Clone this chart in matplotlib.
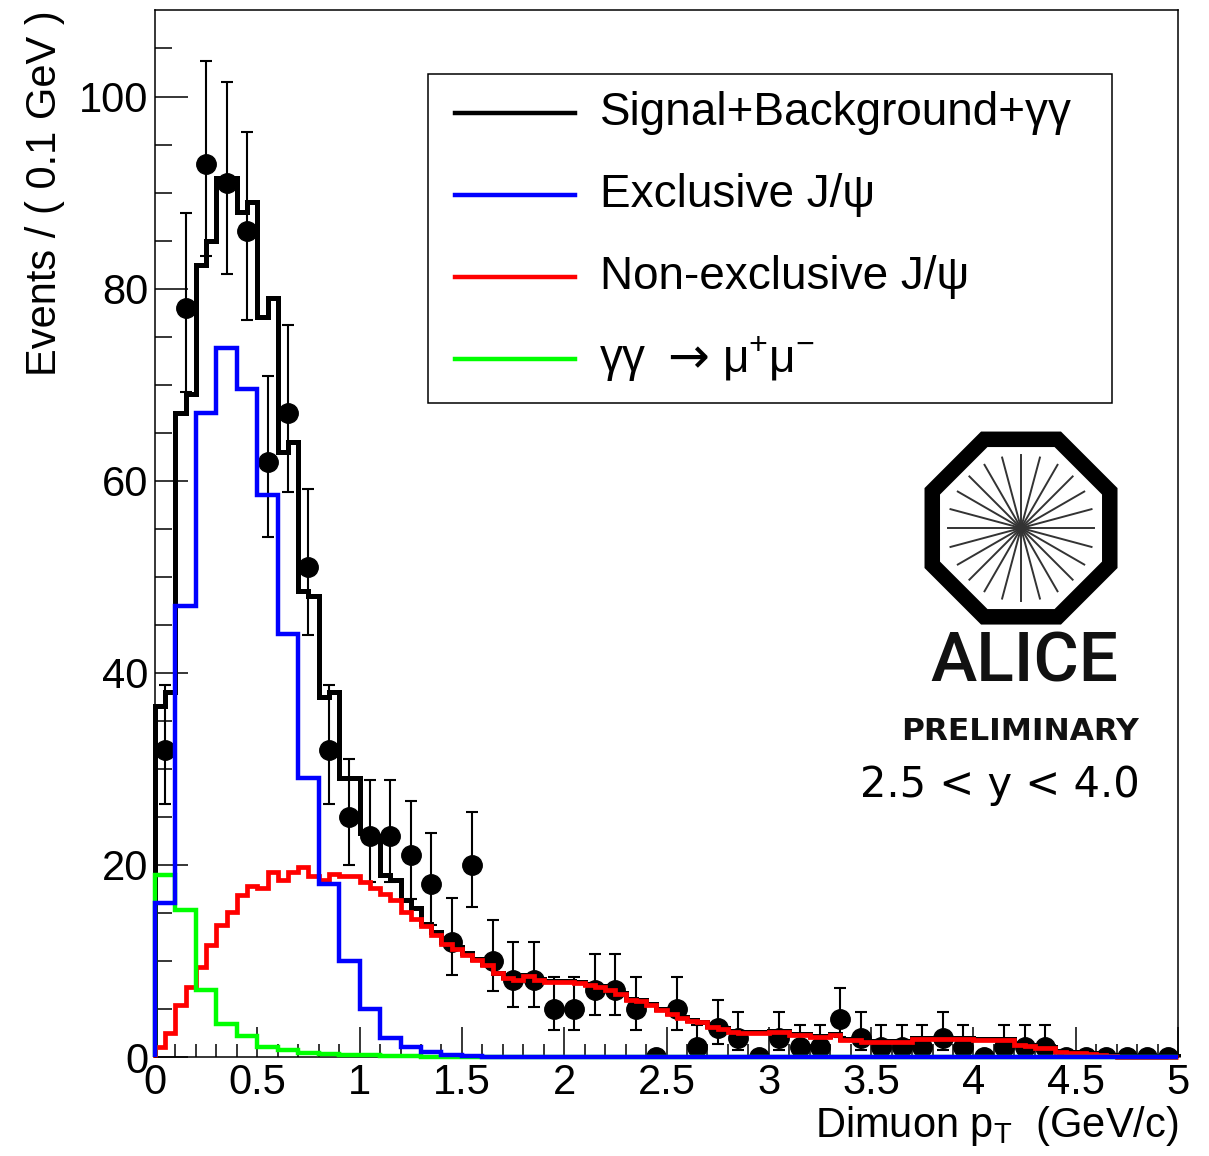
import numpy as np
import matplotlib as mpl
mpl.use('Agg')
import matplotlib.pyplot as plt
from matplotlib.ticker import MultipleLocator, FuncFormatter
from matplotlib.patches import RegularPolygon, Rectangle
from matplotlib.lines import Line2D

plt.rcParams['font.family'] = ['Liberation Sans', 'DejaVu Sans']
plt.rcParams['mathtext.fontset'] = 'custom'
plt.rcParams['mathtext.rm'] = 'Liberation Sans'
plt.rcParams['mathtext.it'] = 'Liberation Sans:italic'

# binning: fit curves in 0.05 GeV bins, data and two components in 0.1 GeV bins
fine_edges = np.linspace(0, 5, 101)
coarse_edges = np.linspace(0, 5, 51)
pt_centers = 0.5 * (coarse_edges[:-1] + coarse_edges[1:])

# data counts per 0.1 GeV
counts = [32, 78, 93, 91, 86, 62, 67, 51, 32, 25,
          23, 23, 21, 18, 12, 20, 10, 8, 8, 5,
          5, 7, 7, 5, 0, 5, 1, 3, 2, 0,
          2, 1, 1, 4, 2, 1, 1, 1, 2, 1,
          0, 1, 1, 1, 0, 0, 0, 0, 0, 0]
err_lo = [5.62, 8.80, 9.62, 9.51, 9.25, 7.84, 8.16, 7.11, 5.62, 4.97,
          4.76, 4.76, 4.54, 4.21, 3.41, 4.43, 3.11, 2.77, 2.77, 2.16,
          2.16, 2.58, 2.58, 2.16, 0, 2.16, 0.83, 1.63, 1.29, 0,
          1.29, 0.83, 0.83, 1.91, 1.29, 0.83, 0.83, 0.83, 1.29, 0.83,
          0, 0.83, 0.83, 0.83, 0, 0, 0, 0, 0, 0]
err_hi = [6.70, 9.86, 10.66, 10.56, 10.30, 8.91, 9.22, 8.18, 6.70, 6.04,
          5.84, 5.84, 5.64, 5.35, 4.58, 5.54, 4.27, 3.95, 3.95, 3.38,
          3.38, 3.77, 3.77, 3.38, 0, 3.38, 2.30, 2.92, 2.64, 0,
          2.64, 2.30, 2.30, 3.16, 2.64, 2.30, 2.30, 2.30, 2.64, 2.30,
          0, 2.30, 2.30, 2.30, 0, 0, 0, 0, 0, 0]

# Signal+Background+gg (0.05 bins)
total = [36.5, 38, 67, 69, 82.5, 85, 91.5, 91.5, 88, 89,
         77, 79, 63, 64, 48.5, 48, 37.5, 38, 29, 29,
         23.3, 23, 19, 18.4, 16.3, 15.5, 13.9, 13.0, 12.0, 11.5,
         10.8, 10.2, 9.7, 8.8, 8.3, 8.1, 8.5, 8.1, 7.9, 7.9,
         7.9, 7.8, 7.6, 7.4, 7.1, 6.7, 6.0, 5.9, 5.5, 5.0,
         4.6, 4.2, 3.9, 3.7, 3.2, 3.0, 2.7, 2.6, 2.6, 2.6,
         2.7, 2.7, 2.4, 2.4, 2.2, 2.2, 2.4, 1.9, 1.9, 1.7,
         1.7, 1.7, 1.7, 1.7, 2.0, 2.0, 2.0, 2.0, 2.0, 2.0,
         1.9, 1.9, 1.9, 1.9, 1.4, 1.3, 1.0, 1.0, 0.6, 0.5,
         0.5, 0.4, 0.3, 0.2, 0.1, 0.1, 0.1, 0.1, 0.1, 0.1]

# Non-exclusive J/psi (0.05 bins)
nonexcl = [1.0, 2.5, 5.4, 7.3, 9.4, 11.7, 13.7, 15.1, 16.9, 17.8,
           17.6, 19.3, 18.4, 19.3, 19.8, 18.8, 18.4, 19.1, 18.9, 18.8,
           18.2, 17.6, 17.0, 16.4, 15.1, 14.4, 13.6, 12.7, 11.8, 11.3,
           10.6, 10.1, 9.6, 8.7, 8.2, 8.0, 8.4, 8.0, 7.8, 7.8,
           7.8, 7.7, 7.5, 7.3, 7.0, 6.6, 5.9, 5.8, 5.4, 4.9,
           4.5, 4.1, 3.8, 3.6, 3.1, 2.9, 2.6, 2.5, 2.5, 2.5,
           2.6, 2.6, 2.3, 2.3, 2.1, 2.1, 2.3, 1.8, 1.8, 1.6,
           1.6, 1.6, 1.6, 1.6, 1.9, 1.9, 1.9, 1.9, 1.9, 1.9,
           1.8, 1.8, 1.8, 1.8, 1.3, 1.2, 0.9, 0.9, 0.5, 0.4,
           0.4, 0.3, 0.2, 0.1, 0, 0, 0, 0, 0, 0]

# Exclusive J/psi (0.1 bins)
excl = [16, 47, 67, 73.8, 69.5, 58.5, 44, 29, 18, 10,
        5, 2, 1, 0.5, 0.2, 0.1, 0, 0, 0, 0] + [0] * 30

# gamma gamma -> mu mu (0.1 bins)
gg = [19, 15.3, 7, 3.4, 2.2, 1.0, 0.7, 0.4, 0.3, 0.25,
      0.2, 0.15, 0.1, 0.05, 0, 0, 0, 0, 0, 0] + [0] * 30

legend_labels = ['Signal+Background+γγ', 'Exclusive J/ψ', 'Non-exclusive J/ψ', None]
legend_colors = ['black', '#0000ff', '#ff0000', '#00ff00']

fig = plt.figure(figsize=(12.09, 11.56), dpi=100)
ax = fig.add_axes([0.1282, 0.0856, 0.8462, 0.9057])

ax.errorbar(pt_centers, counts, yerr=[err_lo, err_hi], fmt='o', color='black',
            ms=14, elinewidth=1.5, capsize=4.5, capthick=1.5, zorder=2)
ax.stairs(total, fine_edges, color='black', lw=3.6, zorder=3, clip_on=False)
ax.stairs(nonexcl, fine_edges, color='#ff0000', lw=3.4, zorder=4, clip_on=False)
ax.stairs(gg, coarse_edges, color='#00ff00', lw=3.2, zorder=5, clip_on=False)
ax.stairs(excl, coarse_edges, color='#0000ff', lw=3.2, zorder=6, clip_on=False)

ax.set_xlim(0, 5)
ax.set_ylim(0, 109)
ax.xaxis.set_major_locator(MultipleLocator(0.5))
ax.xaxis.set_minor_locator(MultipleLocator(0.1))
ax.yaxis.set_major_locator(MultipleLocator(20))
ax.yaxis.set_minor_locator(MultipleLocator(5))
ax.xaxis.set_major_formatter(FuncFormatter(lambda v, p: '%g' % v))
ax.tick_params(which='both', direction='in', top=False, right=False, width=1.1)
ax.tick_params(axis='x', which='major', length=21.6, labelsize=30, pad=4)
ax.tick_params(axis='x', which='minor', length=9.4)
ax.tick_params(axis='y', which='major', length=24, labelsize=30, pad=5)
ax.tick_params(axis='y', which='minor', length=12)
for s in ax.spines.values():
    s.set_linewidth(1.1)

ax.text(-0.1075, 1.0, 'Events / ( 0.1 GeV )', transform=ax.transAxes,
        rotation=90, ha='center', va='top', fontsize=30)
ax.text(1.0, -0.0764, 'Dimuon p$_{\\mathrm{T}}$  (GeV/c)', transform=ax.transAxes,
        ha='right', va='baseline', fontsize=30)

# legend box
ax.add_patch(Rectangle((0.267, 0.6246), 0.6685, 0.3143, transform=ax.transAxes,
                       fill=False, lw=1.1, ec='black', zorder=10))
rows = [0.9016, 0.8233, 0.745, 0.6667]
for lab, col, yr in zip(legend_labels, legend_colors, rows):
    ax.add_line(Line2D([0.2933, 0.4106], [yr, yr], transform=ax.transAxes,
                       color=col, lw=3.2, zorder=10))
    if lab is not None:
        ax.text(0.435, yr, lab, transform=ax.transAxes, va='center', fontsize=33)
# gamma gamma -> mu+ mu- entry, arrow taken from DejaVu
ax.text(0.435, rows[3], 'γγ', transform=ax.transAxes, va='center', fontsize=33)
ax.text(0.521, rows[3], '→', transform=ax.transAxes, va='center', ha='center',
        fontsize=36, family='DejaVu Sans')
ax.text(0.554, rows[3], 'μ$^{+}$μ$^{-}$', transform=ax.transAxes, va='center', fontsize=33)

# ALICE logo
lax = fig.add_axes([0.7618, 0.4567, 0.16543, 0.17301])
lax.set_xlim(-1, 1)
lax.set_ylim(-1, 1)
lax.axis('off')
lax.add_patch(RegularPolygon((0, 0), 8, radius=0.965 / np.cos(np.pi / 8),
                             orientation=np.pi / 8, fc='black', ec='none'))
lax.add_patch(RegularPolygon((0, 0), 8, radius=0.81 / np.cos(np.pi / 8),
                             orientation=np.pi / 8, fc='white', ec='none'))
for k in range(12):
    a = np.radians(15 * k)
    lax.plot([-0.73 * np.cos(a), 0.73 * np.cos(a)], [-0.73 * np.sin(a), 0.73 * np.sin(a)],
             color='#333333', lw=1.4)

fig.text(0.847, 0.4265, 'ALICE', ha='center', va='center', fontsize=50,
         family='Roboto', weight='medium', color='#111111')
fig.text(0.8437, 0.3676, 'PRELIMINARY', ha='center', va='center', fontsize=22.5,
         family='DejaVu Sans', weight='bold', color='#111111')
fig.text(0.8271, 0.3209, '2.5 < y < 4.0', ha='center', va='center', fontsize=30,
         family='DejaVu Sans')

fig.savefig('out.png', dpi=100)
plt.close()
